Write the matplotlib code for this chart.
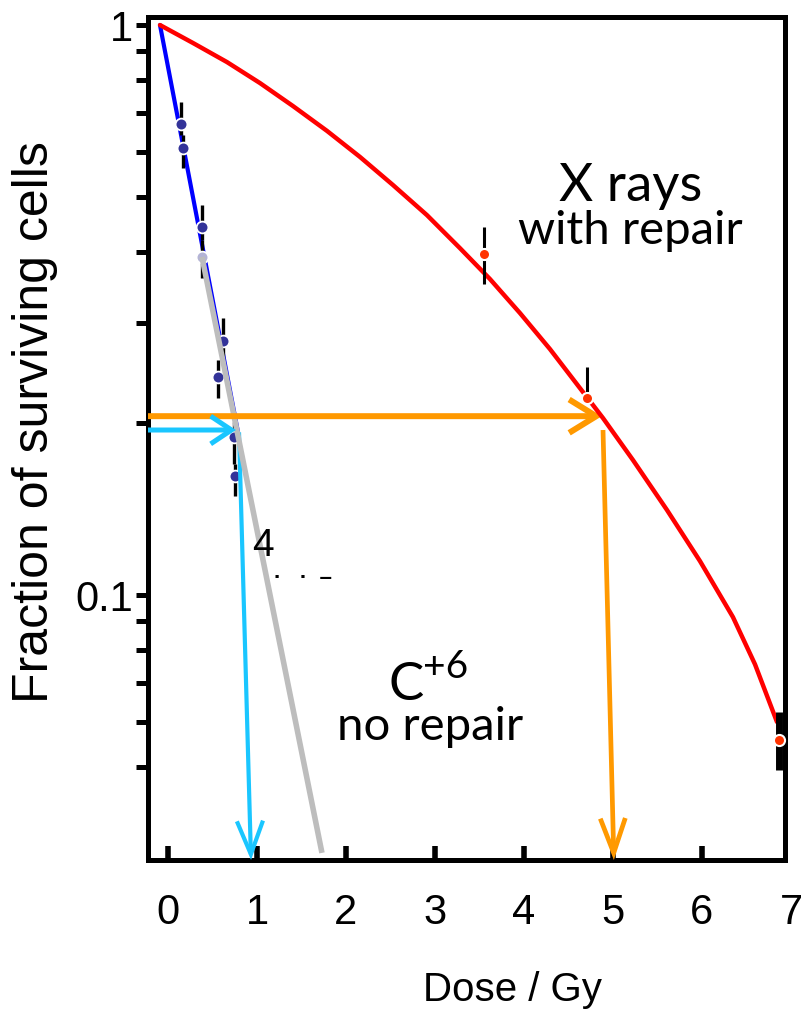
import matplotlib
matplotlib.use("Agg")
import matplotlib.pyplot as plt
from matplotlib.ticker import FixedLocator, NullFormatter

# ---- data -------------------------------------------------------------
# X-ray survival curve (with repair)
xray_curve_dose = [-0.090, 0.281, 0.663, 1.034, 1.404, 1.787, 2.157, 2.528,
                   2.910, 3.281, 3.618, 3.955, 4.292, 4.629, 4.888, 5.225,
                   5.607, 5.978, 6.348, 6.596, 6.843]
xray_curve_surv = [1.0, 0.930, 0.861, 0.791, 0.721, 0.652, 0.587, 0.524,
                   0.464, 0.406, 0.3584, 0.3124, 0.2701, 0.2307, 0.2044, 0.1725,
                   0.1410, 0.1147, 0.0915, 0.0756, 0.0599]

# X-ray measurements with error limits
xray_dose = [3.55, 4.71, 6.865]
xray_surv = [0.397, 0.222, 0.0557]
xray_low = [0.352, 0.222, 0.0493]
xray_high = [0.442, 0.251, 0.0623]

# Carbon-ion (C+6) survival: straight exponential fit
carbon_line_dose = [-0.09, 0.787]
carbon_line_surv = [1.0, 0.193]
carbon_dose = [0.146, 0.169, 0.382, 0.562, 0.618, 0.742, 0.753]
carbon_surv = [0.670, 0.608, 0.442, 0.241, 0.279, 0.189, 0.162]
carbon_low = [0.641, 0.561, 0.420, 0.222, 0.258, 0.170, 0.149]
carbon_high = [0.733, 0.641, 0.483, 0.258, 0.306, 0.201, 0.170]

# extra point and extrapolated carbon line
carbon_extra_dose = [0.382]
carbon_extra_surv = [0.392]
carbon_extra_low = [0.360]
carbon_extra_high = [0.420]
extrap_dose = [0.382, 1.73]
extrap_surv = [0.392, 0.0353]

# iso-effect guides: survival level and the dose it needs
carbon_level, carbon_hit, carbon_iso_dose = 0.1948, 0.764, 0.933
carbon_drop_start = (0.798, 0.193)
xray_level, xray_hit, xray_iso_dose = 0.206, 4.876, 5.01
xray_drop_start = (4.888, 0.1948)

x_ticks = [0, 1, 2, 3, 4, 5, 6]
x_edge_label = 7
y_major = [0.1, 1]
y_major_labels = ["0.1", "1"]
y_minor = [0.05, 0.06, 0.07, 0.08, 0.09, 0.2, 0.3, 0.4, 0.5, 0.6, 0.7, 0.8, 0.9]

XMIN, XMAX = -0.2247, 6.933
YMIN, YMAX = 0.0343, 1.033

# ---- figure -------------------------------------------------------------
plt.rcParams["font.family"] = ["Liberation Sans", "DejaVu Sans"]
fig = plt.figure(figsize=(8.04, 10.15), dpi=100)
ax = fig.add_axes([148 / 804, 1 - 860 / 1015, (785 - 148) / 804, (860 - 17) / 1015])
ax.set_yscale("log")
ax.set_xlim(XMIN, XMAX)
ax.set_ylim(YMIN, YMAX)

for s in ax.spines.values():
    s.set_linewidth(3.6)
    s.set_color("black")

XPAD = 24
ax.xaxis.set_major_locator(FixedLocator(x_ticks))
ax.xaxis.set_minor_locator(FixedLocator([]))
ax.yaxis.set_major_locator(FixedLocator(y_major))
ax.yaxis.set_minor_locator(FixedLocator(y_minor))
ax.yaxis.set_minor_formatter(NullFormatter())
ax.set_yticklabels(y_major_labels)
ax.tick_params(axis="x", which="major", direction="in", length=10, width=4,
               labelsize=30, pad=XPAD)
ax.tick_params(axis="y", which="both", direction="out", length=9, width=3.6,
               labelsize=30, pad=2)

# tick label for 7 Gy, which sits on the right frame edge
ax.annotate(str(x_edge_label), xy=(x_edge_label, 0),
            xycoords=ax.get_xaxis_transform(), xytext=(0, -XPAD),
            textcoords="offset points", fontsize=30, ha="center", va="top",
            annotation_clip=False)

ax.set_xlabel("Dose / Gy", fontsize=29)
ax.xaxis.set_label_coords((512 - 148) / 637, (860 - 990) / 843)
ax.xaxis.label.set_va("center")
ax.set_ylabel("Fraction of surviving cells", fontsize=36)
ax.yaxis.set_label_coords((35 - 148) / 637, (860 - 422) / 843)
ax.yaxis.label.set_va("center")

# ---- curves -------------------------------------------------------------
orange = "#FF9900"
cyan = "#1AC6FF"


def arrow(x0, y0, x1, y1, color, lw, hl, hw, z):
    ax.annotate("", xy=(x1, y1), xytext=(x0, y0),
                arrowprops=dict(arrowstyle=f"->,head_length={hl},head_width={hw}",
                                color=color, lw=lw, shrinkA=0, shrinkB=0,
                                mutation_scale=1, capstyle="butt",
                                joinstyle="miter"),
                annotation_clip=False, zorder=z)


# orange: X rays reach the same survival level at a larger dose
arrow(XMIN, xray_level, xray_hit, xray_level, orange, 4.3, 19.5, 12, 8)
arrow(xray_drop_start[0], xray_drop_start[1], xray_iso_dose, YMIN, orange, 3.4, 25, 9, 3)

ax.plot(xray_curve_dose, xray_curve_surv, color="#FF0000", lw=3.2, zorder=9,
        solid_capstyle="round", solid_joinstyle="round", clip_on=False)

# carbon fit line
ax.plot(carbon_line_dose, carbon_line_surv, color="#0000FF", lw=3.0, zorder=4,
        solid_capstyle="round")


def ebars(x, y, lo, hi, lw, z):
    ax.errorbar(x, y, yerr=[[a - b for a, b in zip(y, lo)], [b - a for a, b in zip(y, hi)]],
                fmt="none", ecolor="black", elinewidth=lw, capsize=0, zorder=z,
                clip_on=False)


ebars(carbon_dose, carbon_surv, carbon_low, carbon_high, 2.4, 5)
ebars(carbon_extra_dose, carbon_extra_surv, carbon_extra_low, carbon_extra_high, 2.4, 5)
ebars(xray_dose[:2], xray_surv[:2], xray_low[:2], xray_high[:2], 2.2, 10)
ebars(xray_dose[2:], xray_surv[2:], xray_low[2:], xray_high[2:], 5, 10)

ax.plot(carbon_dose, carbon_surv, "o", ms=8.5, mfc="#333399", mec="white",
        mew=1.3, zorder=6, clip_on=False)
ax.plot(carbon_extra_dose, carbon_extra_surv, "o", ms=8.5, mfc="#B4B4D6",
        mec="white", mew=1.3, zorder=6)
ax.plot(xray_dose, xray_surv, "o", ms=8, mfc="#FF3300", mec="white",
        mew=1.5, zorder=11, clip_on=False)

# extrapolated carbon line (grey)
ax.plot(extrap_dose, extrap_surv, color="#BDBDBD", lw=4.0, zorder=7,
        solid_capstyle="butt")

# cyan: carbon ions at the same survival level
arrow(XMIN, carbon_level, carbon_hit, carbon_level, cyan, 3.6, 15, 10, 8)
arrow(carbon_drop_start[0], carbon_drop_start[1], carbon_iso_dose, YMIN, cyan, 3.0, 24, 9.4, 6)

# ---- labels -------------------------------------------------------------
lato = ["Lato", "DejaVu Sans"]
fig.text(631 / 804, 1 - 187 / 1015, "X rays", fontsize=38, family=lato,
         ha="center", va="center")
fig.text(630 / 804, 1 - 231 / 1015, "with repair", fontsize=34, family=lato,
         ha="center", va="center")
fig.text(389 / 804, 1 - 700 / 1015, "C", fontsize=38, family=lato,
         ha="left", va="baseline")
fig.text(423 / 804, 1 - 678 / 1015, "+6", fontsize=28, family=lato,
         ha="left", va="baseline")
fig.text(430 / 804, 1 - 727 / 1015, "no repair", fontsize=34, family=lato,
         ha="center", va="center")

# faint leftover label fragments
fig.text(263 / 804, 1 - 546 / 1015, "4", fontsize=28, ha="center", va="center",
         zorder=1)
fig.text(303 / 804, 1 - 578 / 1015, "\u00b7   \u00b7  \u2013", fontsize=16,
         fontweight="bold", ha="center", va="center", zorder=1)

fig.savefig("out.png", dpi=100)
